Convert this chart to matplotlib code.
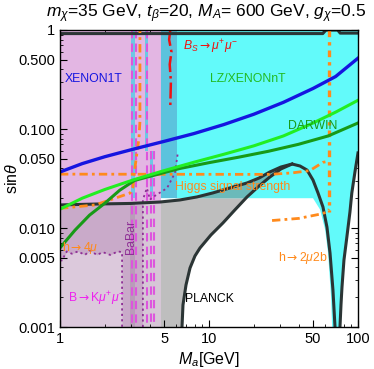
import numpy as np
import matplotlib
matplotlib.use("Agg")
import matplotlib.pyplot as plt
from matplotlib.patches import Rectangle

plt.rcParams["font.family"] = ["Liberation Sans", "DejaVu Sans"]
plt.rcParams["mathtext.fontset"] = "custom"
plt.rcParams["mathtext.rm"] = "Liberation Sans"
plt.rcParams["mathtext.it"] = "Liberation Sans:italic"
plt.rcParams["mathtext.bf"] = "Liberation Sans:bold"
plt.rcParams["mathtext.sf"] = "DejaVu Sans"  # used only for the arrows

# ---- data (x = M_a in GeV, y = sin(theta)) ----
xenon1t_x = [1, 1.41, 2, 3.16, 5, 7.94, 12.6, 20, 31.6, 50, 70.8, 100]
xenon1t_y = [0.0368, 0.0447, 0.0525, 0.063, 0.075, 0.090, 0.111, 0.141, 0.186, 0.257, 0.339, 0.519]

lz_x = [1, 1.41, 2, 3.16, 5, 7.94, 12.6, 20, 31.6, 50, 70.8, 100]
lz_y = [0.0155, 0.020, 0.0245, 0.0309, 0.038, 0.0462, 0.0556, 0.0676, 0.0851, 0.115, 0.148, 0.195]

darwin_x = [1, 1.26, 1.58, 2, 2.51, 3.16, 4.47, 6.31, 10, 15.8, 25.1, 39.8, 63.1, 100]
darwin_y = [0.0063, 0.0095, 0.0135, 0.0178, 0.024, 0.0302, 0.0347, 0.0398, 0.0457, 0.0519, 0.0596, 0.070, 0.0851, 0.115]

# PLANCK boundary: upper arch, lower branch, right branch, top edge
planck_up_x = [1, 1.855, 2.95, 4.69, 6.38, 8.31, 10.6, 13.8, 18.0, 21.7, 25.6, 30.4, 36.1,
               40.8, 45.5, 49.9, 53.9, 58.2, 61.9, 64.9, 67.9, 70.1]
planck_up_y = [0.0171, 0.0175, 0.0177, 0.0183, 0.0192, 0.0206, 0.0226, 0.0254, 0.0285, 0.032, 0.0368,
               0.0413, 0.0443, 0.0423, 0.0385, 0.0305, 0.0226, 0.0163, 0.0102, 0.00559, 0.00237, 0.001]
planck_lo_x = [6.59, 6.69, 7.01, 7.46, 8.05, 8.70, 10.3, 12.4, 14.9, 18.0, 21.7, 25.6, 30.4, 36.1]
planck_lo_y = [0.001, 0.00167, 0.00266, 0.00395, 0.00522, 0.00628, 0.0085, 0.01124, 0.0152, 0.0206,
               0.0266, 0.0327, 0.0395, 0.0443]
planck_r_x = [75.7, 76.9, 78.1, 80.5, 84.2, 88.3, 90.9, 95.4, 100]
planck_r_y = [0.001, 0.00168, 0.00254, 0.00475, 0.00811, 0.0145, 0.0226, 0.0368, 0.0573]
planck_top_x = [1, 58, 61, 73, 76, 100]
planck_top_y = [0.92, 0.92, 1.0, 1.0, 0.93, 0.93]

# LZ/XENONnT excluded region (cyan), lower-left boundary
cyan_edge_x = [67.0, 66.0, 62.9, 60.2, 55.6, 49.9, 4.76]
cyan_edge_y = [0.001, 0.002, 0.0057, 0.0096, 0.0154, 0.020, 0.020]

# Higgs-related orange curves
higgs_x = [1, 25.6, 36.0, 47.5, 58.1, 62.0]
higgs_y = [0.035, 0.0348, 0.036, 0.038, 0.046, 0.047]
h4mu_x = [1, 1.72, 2.95, 3.09, 3.19, 3.39, 3.44, 3.44]
h4mu_y = [0.0158, 0.0171, 0.0225, 0.026, 0.0413, 0.081, 0.12, 1.0]
h2mu2b_x = [26.5, 40, 55.6, 62.0, 64.0]
h2mu2b_y = [0.0119, 0.0125, 0.0138, 0.0145, 0.0155]
h2mu2b_vx = [64.0, 64.0]
h2mu2b_vy = [1.0, 0.0145]

# B_s -> mu mu
bs_x = [5.5, 5.4, 5.6, 5.45, 5.55, 5.5]
bs_y = [1.0, 0.8, 0.6, 0.45, 0.3, 0.17]

# B -> K mu mu (purple dotted)
bk_x = [1, 1.03, 1.11, 1.20, 1.32, 1.47, 1.59, 1.77, 1.94, 2.17, 2.45, 2.61, 2.61]
bk_y = [0.0047, 0.0047, 0.0058, 0.0055, 0.0058, 0.00535, 0.0059, 0.00535, 0.0057, 0.00535, 0.0058, 0.0057, 0.001]
bk2_x = [3.6, 3.6, 3.83, 4.02, 4.14, 5.23, 5.91, 6.19]
bk2_y = [0.001, 0.0193, 0.0253, 0.0193, 0.0202, 0.0253, 0.036, 0.0586]

# BaBar dashed lines: x position, y top
babar_x = [3.03, 3.22, 3.82, 4.06, 4.30]
babar_top = [1.0, 1.0, 1.0, 0.06, 0.06]

xticks = [1, 5, 10, 50, 100]
xticklabels = ["1", "5", "10", "50", "100"]
yticks = [0.001, 0.005, 0.01, 0.05, 0.1, 0.5, 1]
yticklabels = ["0.001", "0.005", "0.010", "0.050", "0.100", "0.500", "1"]

# ---- figure ----
fig = plt.figure(figsize=(3.74, 3.69), dpi=100)
ax = fig.add_axes([0.1604, 0.1138, 0.7968, 0.8049])
ax.set_xscale("log")
ax.set_yscale("log")
ax.set_xlim(1, 100)
ax.set_ylim(0.001, 1)

x_pink_end = 4.76

# pink XENON1T-type region and its overlaps
ax.fill_between([1, x_pink_end], 0.0171, 1, color="#E3B6E3", lw=0, zorder=1)
ax.fill_between([1, x_pink_end], 0.001, 0.0171, color="#C9AAC9", lw=0, zorder=1)
ax.fill_between(bk_x[:-1], 0.001, bk_y[:-1], color="#DCC9DC", lw=0, zorder=1.1)
ax.fill_between([3.6, x_pink_end], 0.001, 0.0175, color="#D6C6D6", lw=0, zorder=1.1)
ax.fill_between([2.95, 3.2], 0.001, 0.0175, color="#B99CB9", lw=0, zorder=1.1)

# PLANCK gray region
pl_x = [x_pink_end] + planck_up_x[3:13] + planck_lo_x[::-1] + [x_pink_end]
pl_y = [0.0183] + planck_up_y[3:13] + planck_lo_y[::-1] + [0.001]
ax.fill(pl_x, pl_y, color="#BEBEBE", lw=0, zorder=1)

# cyan LZ region
cy_x = [x_pink_end, 100, 100] + planck_r_x[::-1] + cyan_edge_x
cy_y = [1, 1, 0.0573] + planck_r_y[::-1] + cyan_edge_y
ax.fill(cy_x, cy_y, color="#62FAFA", lw=0, zorder=2)
ax.fill_between([x_pink_end, 6.1], 0.02, 1, color="#5BC3DD", lw=0, zorder=2.1)

# PLANCK wedge seen through cyan
wedge = ax.fill(planck_up_x[:14] + planck_lo_x[::-1], planck_up_y[:14] + planck_lo_y[::-1],
                color="#6BBABA", lw=0, zorder=2.2)[0]
clip = Rectangle((6.1, 0.02), 100, 1, transform=ax.transData)
wedge.set_clip_path(clip)

# narrow light-blue strips inside the pink area
ax.fill_between([3.0, 3.17], 0.02, 1, color="#6CC8E4", lw=0, zorder=2.3)
ax.fill_between([3.74, 3.92], 0.06, 1, color="#6CC8E4", lw=0, zorder=2.3)
ax.fill_between([4.0, 4.2], 0.021, 0.06, color="#6CC8E4", lw=0, zorder=2.3)

# BaBar dashed lines
for bx, bt in zip(babar_x, babar_top):
    ax.plot([bx, bx], [bt, 0.001], color="#DD55DD", lw=1.5, ls=(0, (4, 2.5)), zorder=3)

# purple dotted lines
ax.plot(bk_x, bk_y, color="#8E2F95", lw=1.3, ls=(0, (1.2, 1.8)), zorder=3.2)
ax.plot(bk2_x, bk2_y, color="#8E2F95", lw=1.3, ls=(0, (1.2, 1.8)), zorder=3.2)

# B_s line
ax.plot(bs_x, bs_y, color="#EE1111", lw=1.8, ls="-.", zorder=3.3)

# PLANCK black curves
pk = dict(color="#2B3535", lw=2.2, zorder=4, solid_joinstyle="round")
ax.plot(planck_up_x, planck_up_y, **pk)
ax.plot(planck_lo_x, planck_lo_y, **pk)
ax.plot(planck_r_x, planck_r_y, **pk)
ax.plot(planck_top_x, planck_top_y, **pk)

# direct detection lines
ax.plot(darwin_x, darwin_y, color="#179A17", lw=2.2, zorder=5, solid_joinstyle="round")
ax.plot(lz_x, lz_y, color="#22EE22", lw=2.2, zorder=5, solid_joinstyle="round")
ax.plot(xenon1t_x, xenon1t_y, color="#1515E0", lw=2.4, zorder=5, solid_joinstyle="round")

# orange Higgs-related lines
orange = "#FF8A1C"
dd = (0, (3, 1.5, 1, 1.5))
ax.plot(higgs_x, higgs_y, color=orange, lw=2.0, ls=dd, zorder=4.5)
ax.plot(h4mu_x, h4mu_y, color=orange, lw=2.0, ls=dd, zorder=4.5)
ax.plot(h2mu2b_x, h2mu2b_y, color=orange, lw=2.0, ls=dd, zorder=4.5)
ax.plot(h2mu2b_vx, h2mu2b_vy, color=orange, lw=2.4, ls=(0, (2, 1.5, 1, 1.5)), zorder=4.5)

# labels
fs = 8.8
arr = r"$\mathsf{\rightarrow}$"
ax.text(1.08, 0.32, "XENON1T", color="#1515E0", fontsize=fs, va="center", zorder=6)
ax.text(10.1, 0.32, "LZ/XENONnT", color="#22BB22", fontsize=fs, va="center", zorder=6)
ax.text(34, 0.106, "DARWIN", color="#179A17", fontsize=fs, va="center", zorder=6)
ax.text(6.7, 0.68, r"$B_S$" + arr + r"$\mu^{+}\mu^{-}$", color="#EE1111", fontsize=fs, va="center", zorder=6)
ax.text(5.9, 0.026, "Higgs signal strength", color=orange, fontsize=fs, va="center", zorder=6)
ax.text(1.03, 0.0063, "h" + arr + r"4$\mu$", color=orange, fontsize=fs, va="center", zorder=6)
ax.text(29, 0.0050, "h" + arr + r"2$\mu$2b", color=orange, fontsize=fs, va="center", zorder=6)
ax.text(1.13, 0.0019, "B" + arr + r"K$\mu^{+}\mu^{-}$", color="#EE22EE", fontsize=fs, va="center", zorder=6)
ax.text(6.9, 0.0019, "PLANCK", color="black", fontsize=fs, va="center", zorder=6)
ax.text(3.0, 0.0082, "BaBar", color="#8E2F95", fontsize=fs, rotation=90, ha="center", va="center", zorder=6)

# axes styling
ax.set_xticks(xticks)
ax.set_xticklabels(xticklabels)
ax.set_yticks(yticks)
ax.set_yticklabels(yticklabels)
ax.tick_params(which="both", direction="in", top=True, right=True, labelsize=10.5)
ax.tick_params(which="major", length=5, width=0.8)
ax.tick_params(which="minor", length=2.5, width=0.6)
ax.xaxis.set_minor_formatter(matplotlib.ticker.NullFormatter())
ax.yaxis.set_minor_formatter(matplotlib.ticker.NullFormatter())
for s in ax.spines.values():
    s.set_linewidth(1.0)
    s.set_zorder(10)

ax.set_xlabel(r"$M_a$[GeV]", fontsize=11.5, labelpad=3)
ax.set_ylabel(r"sin$\theta$", fontsize=11.5)
ax.yaxis.set_label_coords(-0.135, 0.5)
ax.set_title(r"$m_\chi$=35 GeV, $t_\beta$=20, $M_A$= 600 GeV, $g_\chi$=0.5", fontsize=12.5, pad=9, x=0.49)

fig.savefig("out.png", dpi=100)
